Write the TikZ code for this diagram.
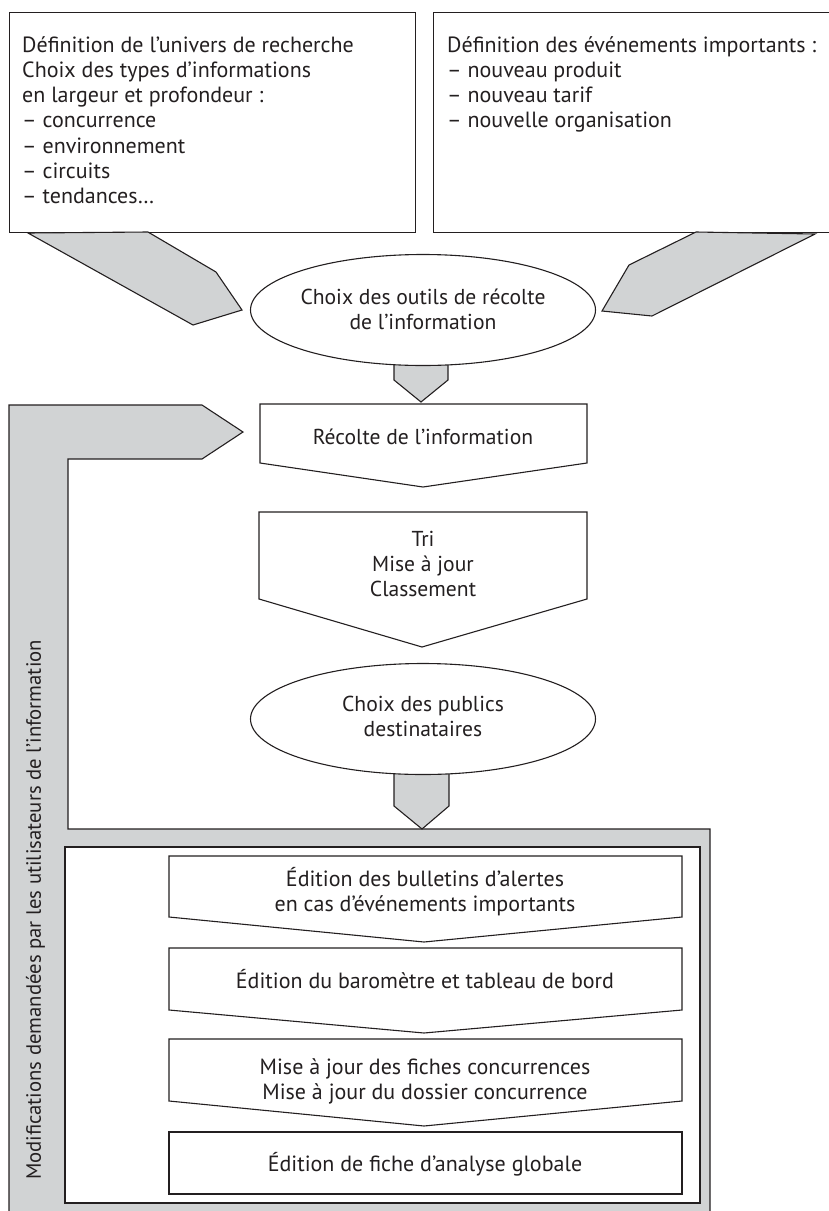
\documentclass[tikz,border=0pt]{standalone}
\usepackage{fontspec}
\setmainfont{PT Sans}
\usetikzlibrary{shapes.geometric}
\definecolor{ink}{HTML}{231F20}
\definecolor{band}{HTML}{D1D3D4}

\begin{document}
\begin{tikzpicture}[x=1pt,y=-1pt,
  outline/.style={draw=ink, line width=1.1pt, line join=miter},
  grayarrow/.style={outline, fill=band},
  whitebox/.style={outline, fill=white},
  label/.style={text=ink, font=\fontsize{21.6}{25}\selectfont, align=center, inner sep=0pt},
  toplabel/.style={text=ink, font=\fontsize{22}{25.3}\selectfont, align=left, inner sep=0pt},
  outlabel/.style={text=ink, font=\fontsize{22}{25}\selectfont, align=center, inner sep=0pt},
  oval/.style={ellipse, whitebox, minimum width=345pt, minimum height=111pt, inner sep=0pt}]

\useasboundingbox (0,0) rectangle (829,1211);

% feedback band (L shape with arrow head) and the output frame
\draw[grayarrow] (9,405) -- (202,405) -- (243,432) -- (202,459) -- (68,459)
  -- (68,829) -- (710,829) -- (710,1218) -- (9,1218) -- cycle;
\draw[whitebox] (65,847) rectangle (700,1203);
\node[rotate=90, text=ink, font=\fontsize{20.7}{24}\selectfont, inner sep=0pt] (modif) at (35.5,910)
  {Modifications demandées par les utilisateurs de l’information};

% top input boxes
\node[whitebox, minimum width=406pt, minimum height=220pt, anchor=north west, inner sep=0pt] (univers) at (9,12) {};
\node[whitebox, minimum width=400pt, minimum height=220pt, anchor=north west, inner sep=0pt] (events) at (433,12) {};
\node[toplabel, anchor=north west] (universtext) at (22,36)
  {Définition de l’univers de recherche\\
   Choix des types d’informations\\
   en largeur et profondeur :\\
   – concurrence\\
   – environnement\\
   – circuits\\
   – tendances…};
\node[toplabel, anchor=north west] (eventstext) at (447,36)
  {Définition des événements importants :\\
   – nouveau produit\\
   – nouveau tarif\\
   – nouvelle organisation};

% wide grey arrows from the input boxes
\draw[grayarrow] (28,233) -- (148,232) -- (216,272) -- (242,310) -- (193,325) -- cycle;
\draw[grayarrow] (696,232) -- (815,234) -- (652,316) -- (602,311) -- (629,265) -- cycle;

% short grey arrows under the ovals
\draw[grayarrow] (394,355) -- (394,380) -- (421,402) -- (448,380) -- (448,355) -- cycle;
\draw[grayarrow] (394,765) -- (394,806) -- (422,829) -- (449,806) -- (449,765) -- cycle;

% ovals
\node[oval] (outils) at (423,310) {};
\node[label] (outilstext) at (423,309.5) {Choix des outils de récolte\\de l’information};
\node[oval] (publics) at (423,719) {};
\node[label] (publicstext) at (423,716.5) {Choix des publics\\destinataires};

% process steps
\draw[whitebox] (260,404) -- (587,404) -- (587,463) -- (423,487) -- (260,463) -- cycle;
\node[label] (recolte) at (423,437) {Récolte de l’information};
\draw[whitebox] (259,512) -- (587,512) -- (587,599) -- (422,647) -- (259,599) -- cycle;
\node[label] (tri) at (423,564) {Tri\\Mise à jour\\Classement};

% output steps
\draw[whitebox] (169,856) -- (682,856) -- (682,917) -- (424,942) -- (169,917) -- cycle;
\node[outlabel] (alertes) at (425,892) {Édition des bulletins d’alertes\\en cas d’événements importants};
\draw[whitebox] (169,948) -- (682,948) -- (682,1010) -- (424,1033) -- (169,1010) -- cycle;
\node[outlabel] (barometre) at (425,979) {Édition du baromètre et tableau de bord};
\draw[whitebox] (169,1039) -- (682,1039) -- (682,1101) -- (424,1126) -- (169,1101) -- cycle;
\node[outlabel] (fiches) at (425,1081.5) {Mise à jour des fiches concurrences\\Mise à jour du dossier concurrence};
\draw[whitebox] (169,1132) rectangle (682,1194);
\node[outlabel] (analyse) at (425,1164) {Édition de fiche d’analyse globale};

\end{tikzpicture}
\end{document}
